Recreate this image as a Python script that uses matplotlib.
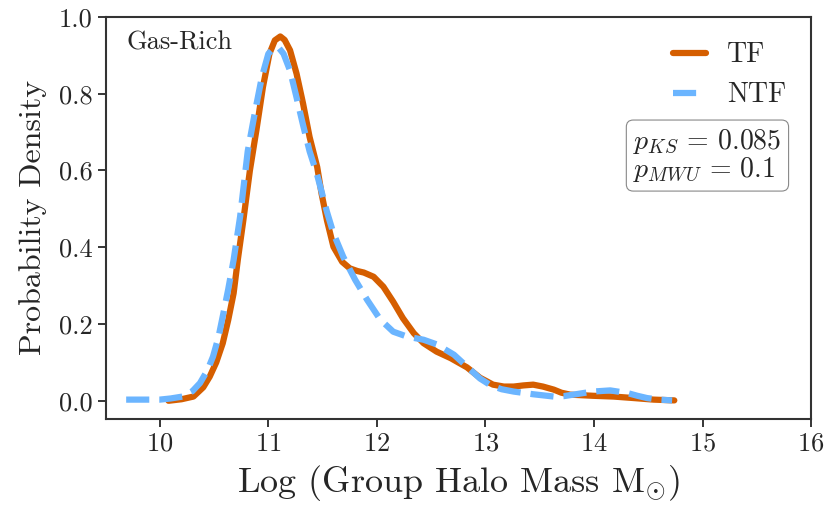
import numpy as np
import matplotlib
matplotlib.use('Agg')
import matplotlib.pyplot as plt

plt.rcParams['font.family'] = 'serif'
plt.rcParams['font.serif'] = ['cmr10', 'DejaVu Serif']
plt.rcParams['mathtext.fontset'] = 'cm'
plt.rcParams['axes.formatter.use_mathtext'] = True
plt.rcParams['text.color'] = '#262626'
plt.rcParams['axes.labelcolor'] = '#262626'
plt.rcParams['xtick.color'] = '#262626'
plt.rcParams['ytick.color'] = '#262626'

TF_COLOR = '#D55E00'
NTF_COLOR = '#6BB5FF'

# density curves
tf_x = [10.08, 10.20, 10.31, 10.40, 10.46, 10.52, 10.58, 10.63, 10.68, 10.72,
        10.77, 10.83, 10.89, 10.95, 11.01, 11.06, 11.11, 11.15, 11.20, 11.26,
        11.32, 11.38, 11.45, 11.49, 11.54, 11.60, 11.68, 11.75, 11.82, 11.88,
        11.97, 12.06, 12.15, 12.24, 12.34, 12.43, 12.55, 12.68, 12.83, 12.95,
        13.07, 13.17, 13.26, 13.35, 13.44, 13.53, 13.63, 13.70, 13.78, 13.99,
        14.18, 14.37, 14.55, 14.74]
tf_y = [0.000, 0.004, 0.011, 0.035, 0.063, 0.100, 0.150, 0.210, 0.280, 0.370,
        0.471, 0.600, 0.705, 0.817, 0.904, 0.939, 0.949, 0.940, 0.913, 0.852,
        0.774, 0.687, 0.609, 0.540, 0.470, 0.401, 0.362, 0.345, 0.338, 0.334,
        0.323, 0.297, 0.258, 0.215, 0.176, 0.150, 0.128, 0.111, 0.087, 0.060,
        0.042, 0.037, 0.037, 0.040, 0.042, 0.037, 0.029, 0.021, 0.016, 0.013,
        0.011, 0.007, 0.003, 0.001]

ntf_x = [9.69, 10.00, 10.10, 10.21, 10.30, 10.37, 10.44, 10.49, 10.54, 10.58,
         10.63, 10.68, 10.74, 10.81, 10.88, 10.94, 11.00, 11.06, 11.10, 11.14,
         11.20, 11.26, 11.32, 11.38, 11.45, 11.54, 11.60, 11.69, 11.80, 11.91,
         12.03, 12.15, 12.28, 12.43, 12.55, 12.71, 12.83, 12.95, 13.05, 13.15,
         13.26, 13.44, 13.63, 13.72, 13.81, 13.99, 14.15, 14.31, 14.40, 14.49,
         14.60, 14.72]
ntf_y = [0.003, 0.003, 0.006, 0.011, 0.025, 0.046, 0.080, 0.115, 0.165, 0.220,
         0.290, 0.367, 0.480, 0.650, 0.757, 0.843, 0.904, 0.921, 0.918, 0.904,
         0.860, 0.790, 0.718, 0.650, 0.588, 0.492, 0.436, 0.375, 0.315, 0.263,
         0.212, 0.180, 0.167, 0.159, 0.147, 0.120, 0.089, 0.058, 0.040, 0.030,
         0.024, 0.017, 0.011, 0.012, 0.016, 0.024, 0.027, 0.020, 0.013, 0.007,
         0.003, 0.001]

p_ks = 0.085
p_mwu = 0.1

fig, ax = plt.subplots(figsize=(8.31, 5.12), dpi=100)
fig.subplots_adjust(left=0.127, right=0.976, top=0.967, bottom=0.182)

ax.plot(tf_x, tf_y, color=TF_COLOR, lw=4.5, solid_capstyle='round',
        solid_joinstyle='round', label='TF')
ax.plot(ntf_x, ntf_y, color=NTF_COLOR, lw=4.5, ls='--',
        dash_joinstyle='round', label='NTF')

ax.set_xlim(9.5, 16)
ax.set_ylim(-0.047, 1.0)
ax.set_xticks(np.arange(10, 17, 1))
ax.set_yticks(np.arange(0, 1.01, 0.2))
ax.set_yticklabels([f'{t:.1f}' for t in np.arange(0, 1.01, 0.2)])

ax.set_xlabel(r'Log (Group Halo Mass M$_{\odot}$)', fontsize=26, labelpad=5)
ax.set_ylabel('Probability Density', fontsize=23, labelpad=8)
ax.tick_params(axis='both', labelsize=19, length=6, width=1.3, direction='out')
for s in ax.spines.values():
    s.set_linewidth(1.5)
    s.set_color('#333333')

ax.text(0.03, 0.965, 'Gas-Rich', transform=ax.transAxes, fontsize=19,
        ha='left', va='top')

ax.legend(loc='upper right', frameon=False, fontsize=20, handlelength=1.2,
          handletextpad=0.75, borderaxespad=0.5)

ax.text(0.748, 0.655,
        f'$p_{{KS}}\\,=\\,{p_ks}$\n$p_{{MWU}}\\,=\\,{p_mwu}$',
        transform=ax.transAxes, fontsize=20, ha='left', va='center',
        linespacing=1.0, multialignment='left',
        bbox=dict(boxstyle='round,pad=0.25', fc='white', ec='#888888', lw=0.8))

fig.savefig('out.png', dpi=100)
